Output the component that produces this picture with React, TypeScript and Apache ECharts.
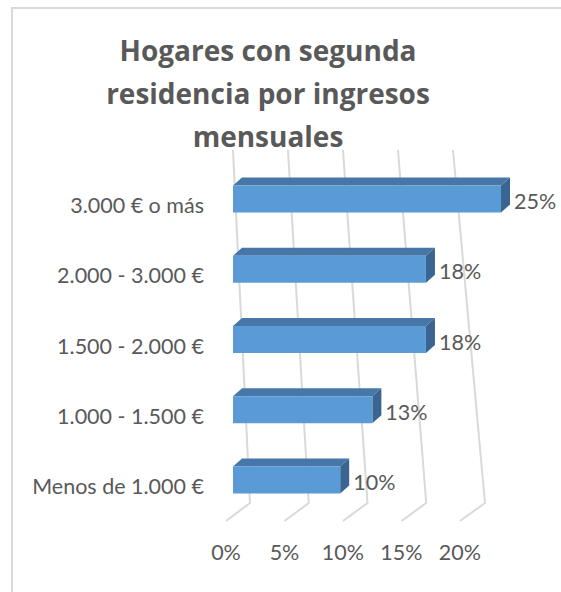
import React, { useEffect, useRef } from "react";
import * as echarts from "echarts";

const categories = ["Menos de 1.000 €", "1.000 - 1.500 €", "1.500 - 2.000 €", "2.000 - 3.000 €", "3.000 € o más"];
const values = [0.10, 0.13, 0.18, 0.18, 0.25];
const tickValues = [0, 0.05, 0.1, 0.15, 0.2];
const tickLabels = ["0%", "5%", "10%", "15%", "20%"];
const titleLines = ["Hogares con segunda", "residencia por ingresos", "mensuales"];

const FONT = "Lato, 'Open Sans', sans-serif";
const TFONT = "'Open Sans', Lato, sans-serif";
const TXT = "#595959";

export default function App() {
  const ref = useRef<HTMLDivElement>(null);
  useEffect(() => {
    if (!ref.current) return;
    const chart = echarts.init(ref.current, null, { renderer: "svg" });
    const option: any = {
      animation: false,
      backgroundColor: "#ffffff",
      graphic: [
        {
          type: "rect",
          shape: { x: 12, y: 8, width: 620, height: 640 },
          style: { fill: "none", stroke: "#d9d9d9", lineWidth: 2 },
          z: 0,
        },
        {
          type: "text",
          x: 268,
          y: 28,
          style: {
            text: titleLines.join("\n"),
            textAlign: "center",
            textVerticalAlign: "top",
            font: `bold 28px ${TFONT}`,
            lineHeight: 43,
            fill: TXT,
          },
          z: 10,
        },
      ],
      grid: { left: 233, right: 60, top: 164, bottom: 77, containLabel: false },
      xAxis: {
        type: "value",
        min: 0,
        max: 0.25,
        interval: 0.05,
        axisLabel: { show: false },
        axisLine: { show: false },
        axisTick: { show: false },
        splitLine: { show: false },
      },
      yAxis: {
        type: "category",
        data: categories,
        axisLine: { show: false },
        axisTick: { show: false },
        axisLabel: {
          margin: 29,
          fontSize: 21.5,
          fontFamily: FONT,
          color: TXT,
          verticalAlign: "top",
          lineHeight: 12,
        },
      },
      series: [
        {
          type: "custom",
          name: "grid",
          z: 1,
          data: tickValues.map((v, i) => [v, i]),
          encode: { x: 0 },
          renderItem: (params: any, api: any) => {
            const cs = params.coordSys;
            const v = api.value(0);
            const idx = api.value(1);
            const x0 = api.coord([0, 0])[0];
            const dx = api.coord([v, 0])[0] - x0;
            const yTopBack = cs.y - 14;
            const yBotBack = cs.y + cs.height - 12;
            const yFront = cs.y + cs.height + 6;
            const xTop = x0 + dx * 1.026;
            const xBot = x0 + 17 + dx * 1.096;
            const xFront = x0 - 7 + dx * 1.091;
            return {
              type: "group",
              children: [
                {
                  type: "polyline",
                  shape: { points: [[xTop, yTopBack], [xBot, yBotBack], [xFront, yFront]] },
                  style: { stroke: "#d9d9d9", lineWidth: 2, fill: "none" },
                },
                {
                  type: "text",
                  style: {
                    text: tickLabels[idx],
                    x: xFront,
                    y: yFront + 31,
                    textAlign: "center",
                    textVerticalAlign: "middle",
                    font: `21.5px ${FONT}`,
                    fill: TXT,
                  },
                },
              ],
            };
          },
        },
        {
          type: "custom",
          name: "bars",
          z: 2,
          data: values.map((v, i) => [v, i]),
          encode: { x: 0, y: 1 },
          renderItem: (params: any, api: any) => {
            const v = api.value(0);
            const cat = api.value(1);
            const c0 = api.coord([0, cat]);
            const c1 = api.coord([v, cat]);
            const bh = api.size([0, 1])[1] * 0.385;
            const x0 = c0[0];
            const x1 = c1[0];
            const yT = c1[1] - bh / 2;
            const yB = yT + bh;
            const d = 9;
            const e = 8;
            return {
              type: "group",
              children: [
                {
                  type: "polygon",
                  shape: { points: [[x0, yT], [x0 + d, yT - e], [x1 + d, yT - e], [x1, yT]] },
                  style: { fill: "#4677a8" },
                },
                {
                  type: "polygon",
                  shape: { points: [[x1, yT], [x1 + d, yT - e], [x1 + d, yB - e], [x1, yB]] },
                  style: { fill: "#3a6590" },
                },
                {
                  type: "rect",
                  shape: { x: x0, y: yT, width: x1 - x0, height: bh },
                  style: { fill: "#5b9bd5" },
                },
                {
                  type: "text",
                  style: {
                    text: Math.round(v * 100) + "%",
                    x: x1 + d + 4,
                    y: c1[1] + 2,
                    textAlign: "left",
                    textVerticalAlign: "middle",
                    font: `21.5px ${FONT}`,
                    fill: TXT,
                  },
                },
              ],
            };
          },
        },
      ],
    };
    chart.setOption(option);
    return () => chart.dispose();
  }, []);
  return (
    <div
      ref={ref}
      style={{ position: "fixed", left: 0, top: 0, width: 561, height: 592, background: "#fff" }}
    />
  );
}
